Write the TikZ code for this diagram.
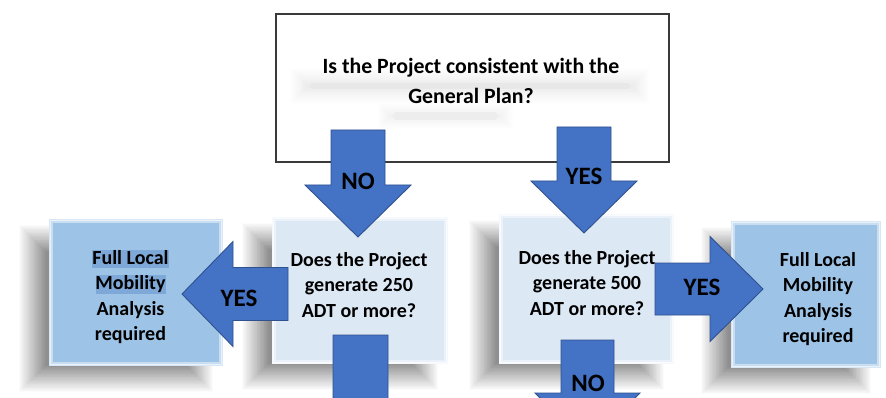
\documentclass[tikz,border=0pt]{standalone}
\usepackage{fontspec}
\setmainfont{Carlito}

\definecolor{arrowfill}{HTML}{4472C4}
\definecolor{arrowline}{HTML}{2F528F}
\definecolor{askfill}{HTML}{DDE8F5}
\definecolor{resultfill}{HTML}{9DC3E6}
\definecolor{markfill}{HTML}{7EA8D8}
\definecolor{frameline}{HTML}{3A3A3A}

\tikzset{
  askbox/.style={rectangle, fill=askfill, draw=white!70!askfill, line width=1.2pt, inner sep=0pt},
  resultbox/.style={rectangle, fill=resultfill, draw=white!60!resultfill, line width=1.2pt, inner sep=0pt},
  topbox/.style={rectangle, fill=white, draw=frameline, line width=1.4pt, inner sep=0pt},
  boxtext/.style={font=\bfseries\fontsize{20}{25.5}\selectfont, align=center, inner sep=0pt},
  toptext/.style={font=\bfseries\fontsize{21.8}{30}\selectfont, align=center, inner sep=0pt},
  arrowlabel/.style={font=\bfseries\fontsize{25}{30}\selectfont, inner sep=0pt},
  blockarrow/.style={fill=arrowfill, draw=arrowline, line width=0.9pt, line join=miter},
  bevel/.style={draw=white, opacity=0.45, line width=3pt},
}

% soft shadow as nested opaque grey layers, lightest outside:
% corners x1,y1,x2,y2, blur radius, number of layers, darkest grey (percent black)
\newcommand\softshade[7]{%
  \foreach \k in {1,...,#6}{%
    \pgfmathsetmacro\grow{#5-2*#5*\k/#6}%
    \pgfmathsetmacro\shadeamt{#7*\k/#6}%
    \fill[black!\shadeamt] (#1-\grow,#2-\grow) rectangle (#3+\grow,#4+\grow);
  }}

% block arrow pointing down: centre x, shaft top, head base, tip, shaft half width, head half width
\newcommand\arrowdown[6]{%
  \path[blockarrow] (#1-#5,#2) -- (#1+#5,#2) -- (#1+#5,#3) -- (#1+#6,#3) -- (#1,#4)
    -- (#1-#6,#3) -- (#1-#5,#3) -- cycle;}
% block arrow pointing sideways: centre y, shaft end, head base, tip, shaft half height, head half height
\newcommand\arrowside[6]{%
  \path[blockarrow] (#2,#1-#5) -- (#3,#1-#5) -- (#3,#1-#6) -- (#4,#1) -- (#3,#1+#6)
    -- (#3,#1+#5) -- (#2,#1+#5) -- cycle;}

\begin{document}
\begin{tikzpicture}[x=1pt,y=-1pt]
  \useasboundingbox (0,0) rectangle (886,398);
  \clip (0,0) rectangle (886,398);
  \fill[white] (0,0) rectangle (886,398);

  % question about the General Plan
  \node[topbox, minimum width=393pt, minimum height=148pt] (plan) at (472.5,88) {};
  \softshade{300}{78}{640}{94}{11}{22}{9}
  \softshade{386}{111}{505}{121}{9}{18}{7}
  \node[toptext] (plantext) at (471,81) {Is the Project consistent with the\\General Plan?};

  % shadows under the lower boxes
  \softshade{32}{238}{200}{379}{14}{36}{44}
  \softshade{255}{236}{425}{377}{14}{36}{44}
  \softshade{482}{233}{651}{377}{14}{36}{44}
  \softshade{714}{240}{858}{381}{14}{36}{44}

  % trip generation questions
  \node[askbox, minimum width=174pt, minimum height=145pt] (ask250) at (360,290.5) {};
  \node[askbox, minimum width=173pt, minimum height=148pt] (ask500) at (586.5,289) {};
  \draw[bevel] ([shift={(2.5pt,-2.5pt)}]ask250.north west) rectangle ([shift={(-2.5pt,2.5pt)}]ask250.south east);
  \draw[bevel] ([shift={(2.5pt,-2.5pt)}]ask500.north west) rectangle ([shift={(-2.5pt,2.5pt)}]ask500.south east);
  \node[boxtext] (ask250text) at (359,285) {Does the Project\\generate 250\\ADT or more?};
  \node[boxtext] (ask500text) at (587,283) {Does the Project\\generate 500\\ADT or more?};

  % outcomes
  \node[resultbox, minimum width=172pt, minimum height=145pt] (fullleft) at (136,292.5) {};
  \node[resultbox, minimum width=148pt, minimum height=145pt] (fullright) at (806,294.5) {};
  \draw[bevel] ([shift={(2.5pt,-2.5pt)}]fullleft.north west) rectangle ([shift={(-2.5pt,2.5pt)}]fullleft.south east);
  \draw[bevel] ([shift={(2.5pt,-2.5pt)}]fullright.north west) rectangle ([shift={(-2.5pt,2.5pt)}]fullright.south east);
  \fill[markfill] (92,250) rectangle (169,268);
  \fill[markfill] (96,275) rectangle (166,294);
  \node[boxtext] (fulllefttext) at (130.5,297) {Full Local\\Mobility\\Analysis\\required};
  \node[boxtext] (fullrighttext) at (818,299) {Full Local\\Mobility\\Analysis\\required};

  % connectors
  \arrowdown{358}{130}{185}{237}{27}{53}
  \node[arrowlabel] (noplan) at (358,181) {NO};
  \arrowdown{584}{127}{181}{233}{27}{53}
  \node[arrowlabel] (yesplan) at (584,176) {YES};
  \arrowside{294}{288}{233}{182}{26.5}{52.5}
  \node[arrowlabel] (yes250) at (239,298) {YES};
  \arrowside{289}{655}{710}{763}{26}{52.5}
  \node[arrowlabel] (yes500) at (702,287) {YES};
  \arrowdown{360.5}{335}{420}{460}{27.5}{53}
  \arrowdown{587.5}{340}{393}{445}{26.5}{52.5}
  \node[arrowlabel] (no500) at (588,383) {NO};
\end{tikzpicture}
\end{document}
